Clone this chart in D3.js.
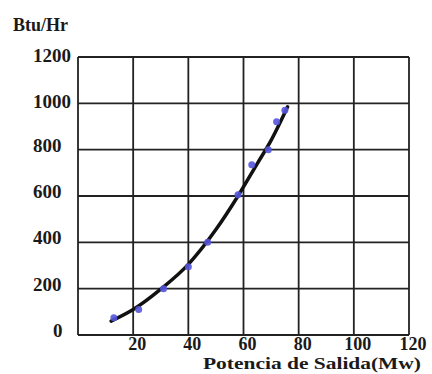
<!DOCTYPE html>
<html>
<head>
<meta charset="utf-8">
<script src="https://cdn.jsdelivr.net/npm/d3@7"></script>
<style>
  body { margin: 0; background: #fff; }
</style>
</head>
<body>
<div id="graphic"></div>
<script>
// data
var xTicks = [20, 40, 60, 80, 100, 120];
var yTicks = [0, 200, 400, 600, 800, 1000, 1200];

// measured points (blue dots)
var pointX = [13, 22, 31, 40, 47, 58, 63, 69, 72, 75];
var pointY = [75, 110, 200, 295, 400, 605, 735, 800, 920, 970];

// fitted curve
var curveX = [12, 20, 30, 40, 50, 58, 65, 70, 76];
var curveY = [60, 110, 198, 305, 455, 600, 740, 840, 985];

var FONT = "'Liberation Serif', 'DejaVu Serif', serif";

var svg = d3.select("#graphic").append("svg")
        .attr("width", 432)
        .attr("height", 374);

var x = d3.scaleLinear().domain([0, 120]).range([78, 409]);
var y = d3.scaleLinear().domain([0, 1200]).range([335, 57]);

// grid
var grid = svg.append("g");

grid.selectAll(".hline")
        .data(yTicks)
        .enter().append("line")
        .attr("x1", x(0))
        .attr("x2", x(120))
        .attr("y1", d => y(d))
        .attr("y2", d => y(d))
        .style("stroke", "#222")
        .style("stroke-width", 1.8);

grid.selectAll(".vline")
        .data([0].concat(xTicks))
        .enter().append("line")
        .attr("x1", d => x(d))
        .attr("x2", d => x(d))
        .attr("y1", y(0))
        .attr("y2", y(1200))
        .style("stroke", "#222")
        .style("stroke-width", 1.8);

// y labels
svg.selectAll(".ylab")
        .data(yTicks)
        .enter().append("text")
        .attr("x", d => d === 0 ? 53 : 33)
        .attr("y", d => y(d) + (d >= 1000 ? 5 : 2))
        .style("font-family", FONT)
        .style("font-weight", "bold")
        .style("font-size", "19px")
        .style("fill", "#1a1a1a")
        .text(d => d);

// x labels
svg.selectAll(".xlab")
        .data(xTicks)
        .enter().append("text")
        .attr("x", d => x(d) + 4)
        .attr("y", 350)
        .attr("text-anchor", "middle")
        .style("font-family", FONT)
        .style("font-weight", "bold")
        .style("font-size", "18px")
        .style("fill", "#1a1a1a")
        .text(d => d);

svg.append("text")
        .attr("x", 13)
        .attr("y", 31)
        .style("font-family", FONT)
        .style("font-weight", "bold")
        .style("font-size", "18px")
        .style("fill", "#1a1a1a")
        .text("Btu/Hr");

svg.append("text")
        .attr("x", 203)
        .attr("y", 369)
        .attr("textLength", 218)
        .attr("lengthAdjust", "spacingAndGlyphs")
        .style("font-family", FONT)
        .style("font-weight", "bold")
        .style("font-size", "16px")
        .style("fill", "#1a1a1a")
        .text("Potencia de Salida(Mw)");

// curve
var line = d3.line()
        .x(d => x(d[0]))
        .y(d => y(d[1]))
        .curve(d3.curveMonotoneX);

svg.append("path")
        .datum(curveX.map((v, i) => [v, curveY[i]]))
        .attr("d", line)
        .style("fill", "none")
        .style("stroke", "#111")
        .style("stroke-width", 3.5)
        .style("stroke-linecap", "round");

// dots
svg.selectAll(".dot")
        .data(pointX.map((v, i) => [v, pointY[i]]))
        .enter().append("circle")
        .attr("cx", d => x(d[0]))
        .attr("cy", d => y(d[1]))
        .attr("r", 3.5)
        .style("fill", "#5555dd")
        .style("opacity", 0.9);
</script>
</body>
</html>
